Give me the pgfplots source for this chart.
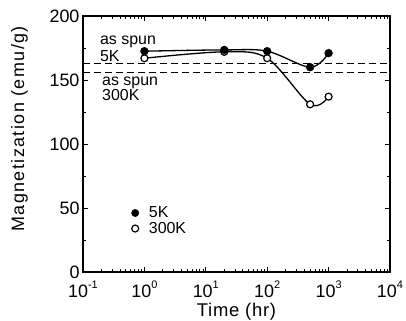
\documentclass[border=0pt]{standalone}
\usepackage{fontspec}
\setmainfont{Liberation Sans}
\usepackage{pgfplots}
\pgfplotsset{compat=1.18}
\newfontfamily\ylabfont[LetterSpace=8]{Liberation Sans}
\newfontfamily\xlabfont[LetterSpace=4]{Liberation Sans}
\newcommand{\pw}[1]{10\raisebox{0.5em}{\fontsize{11}{11}\selectfont #1}}
\begin{document}
\begin{tikzpicture}
\begin{axis}[
  at={(0,0)}, anchor=south west,
  scale only axis, width=307bp, height=256bp,
  xmode=log, xmin=0.1, xmax=10000, ymin=0, ymax=200,
  xtick={0.1,1,10,100,1000,10000},
  xticklabels={\pw{-1},\pw{0},\pw{1},\pw{2},\pw{3},\pw{4}},
  ytick={0,50,100,150,200},
  minor ytick={25,75,125,175},
  tick align=inside,
  major tick length=5bp, minor tick length=3bp,
  axis line style={line width=1.6bp},
  every tick/.style={line width=0.9bp,black},
  /pgf/number format/assume math mode=true,
  ticklabel style={font=\fontsize{18}{18}\selectfont},
  xticklabel style={anchor=base, yshift=-25bp, inner sep=0pt},
  xlabel={\xlabfont Time (hr)}, ylabel={\ylabfont Magnetization (emu/g)},
  xlabel style={font=\fontsize{18.5}{18.5}\selectfont, at={(axis description cs:0.5,0)}, anchor=base, yshift=-44bp, inner sep=0pt},
  ylabel style={font=\fontsize{18}{18}\selectfont, at={(axis description cs:-0.192,0.559)}, anchor=base},
  legend style={draw=none, fill=none, inner sep=0pt, outer sep=0pt,
    row sep=1bp, column sep=9bp, font=\fontsize{16}{16}\selectfont,
    nodes={inner sep=1bp},
    at={(axis description cs:0.158,0.2)}, anchor=west},
  legend cell align=left,
]
\addplot[black, line width=1.5bp, dash pattern=on 7bp off 4bp, forget plot] coordinates {(0.1,163) (10000,163)};
\addplot[black, line width=1.5bp, dash pattern=on 7bp off 4bp, forget plot] coordinates {(0.1,156) (10000,156)};
\addplot[black, line width=1.3bp, smooth, tension=0.55, mark=*, mark size=3.5bp,
  mark options={solid, fill=white, line width=1.2bp}, forget plot]
  coordinates {(1,167) (20,172) (100,167) (500,131) (1000,137)};
\addplot[black, line width=1.3bp, smooth, tension=0.55, mark=*, mark size=3.5bp,
  mark options={solid, fill=black}, forget plot]
  coordinates {(1,172.5) (20,173.5) (100,172.5) (500,160) (1000,171)};
\addlegendimage{only marks, mark=*, mark size=3.7bp, black, mark options={fill=black}}
\addlegendentry{5K}
\addlegendimage{only marks, mark=*, mark size=3.5bp, black, mark options={fill=white, line width=1.2bp}}
\addlegendentry{300K}
\node[anchor=base west, inner sep=0, font=\fontsize{16}{16}\selectfont] at (rel axis cs:0.055,0.887) {as spun};
\node[anchor=base west, inner sep=0, font=\fontsize{16}{16}\selectfont] at (rel axis cs:0.055,0.824) {5K};
\node[anchor=base west, inner sep=0, font=\fontsize{16}{16}\selectfont] at (rel axis cs:0.062,0.727) {as spun};
\node[anchor=base west, inner sep=0, font=\fontsize{16}{16}\selectfont] at (rel axis cs:0.062,0.668) {300K};
\end{axis}
\pgfresetboundingbox
\path[use as bounding box] (-83bp,-49bp) rectangle (323bp,272bp);
\end{tikzpicture}
\end{document}
